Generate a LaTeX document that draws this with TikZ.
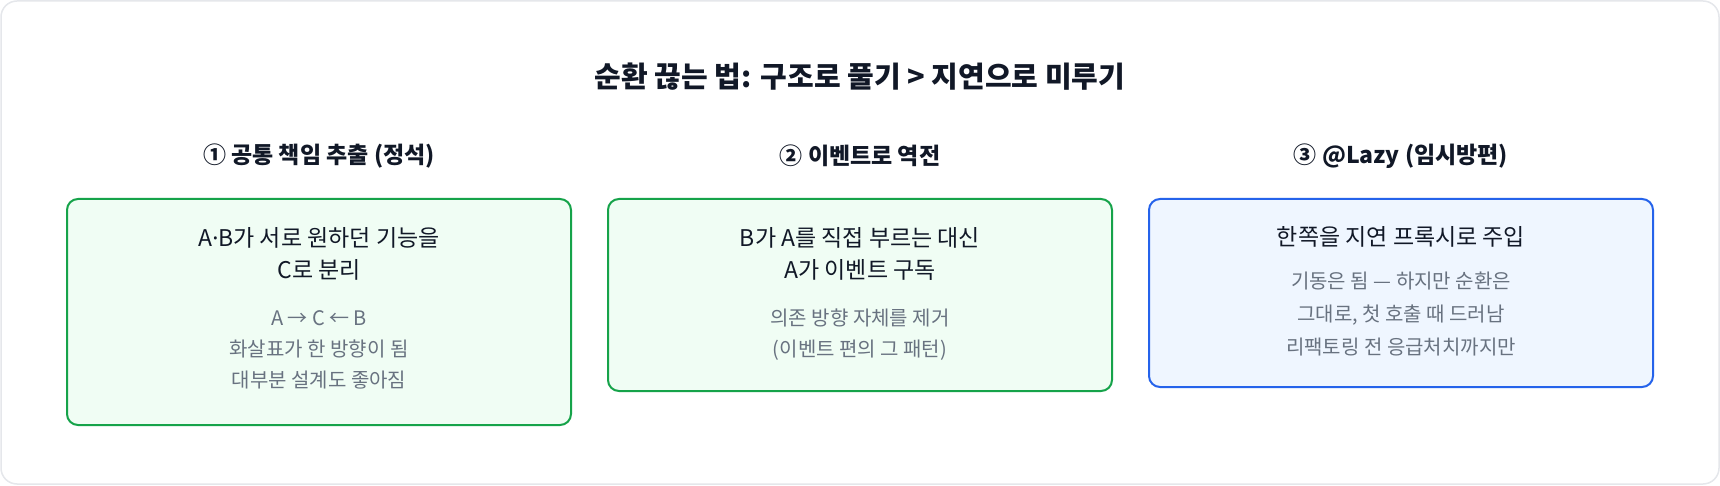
\documentclass[tikz,border=0pt]{standalone}
\usepackage{fontspec}
\setmainfont{Noto Sans CJK KR}
\newfontfamily\latinfont{Noto Sans}
\definecolor{frameline}{HTML}{E5E7EB}
\definecolor{inkdark}{HTML}{111827}
\definecolor{inkgray}{HTML}{687280}
\definecolor{okline}{HTML}{16A34A}
\definecolor{okfill}{HTML}{F0FDF4}
\definecolor{tmpline}{HTML}{2563EB}
\definecolor{tmpfill}{HTML}{EFF6FF}

\begin{document}
\begin{tikzpicture}[x=1pt, y=-1pt,
		titletext/.style={text=inkdark, font=\fontsize{29}{32}\selectfont\bfseries},
		headtext/.style={text=inkdark, font=\fontsize{23}{26}\selectfont\bfseries},
		maintext/.style={text=inkdark, align=center, font=\fontsize{23}{32}\selectfont},
		graytext/.style={text=inkgray, align=center, font=\fontsize{20}{31}\selectfont},
		greenbox/.style={draw=okline, fill=okfill, line width=2pt, rounded corners=11pt, minimum width=504pt},
		bluebox/.style={draw=tmpline, fill=tmpfill, line width=2pt, rounded corners=11pt, minimum width=504pt}]
			%%%%% START %%%%%
			
			\useasboundingbox (0, 0) rectangle (1720, 486);
			\draw[draw=frameline, fill=white, line width=1.5pt, rounded corners=16pt] (1, 1) rectangle (1719, 484);
			
			\node[titletext] (title) at (860, 77) {순환 끊는 법: 구조로 풀기 > 지연으로 미루기};
			
			\node[headtext] (headA) at (319, 156) {① 공통 책임 추출 (정석)};
			\node[headtext] (headB) at (860, 156) {② 이벤트로 역전};
			\node[headtext] (headC) at (1401, 156) {③ @Lazy (임시방편)};
			
			\node[greenbox, minimum height=226pt] (boxA) at (319, 312) {};
			\node[greenbox, minimum height=192pt] (boxB) at (860, 295) {};
			\node[bluebox, minimum height=188pt] (boxC) at (1401, 293) {};
			
			\node[maintext] (mainA) at (319, 253.5) {A{\latinfont ·}B가 서로 원하던 기능을\\C로 분리};
			\node[graytext] (noteA) at (319, 350) {A → C ← B\\화살표가 한 방향이 됨\\대부분 설계도 좋아짐};
			
			\node[maintext] (mainB) at (860, 253.5) {B가 A를 직접 부르는 대신\\A가 이벤트 구독};
			\node[graytext] (noteB) at (860, 334.5) {의존 방향 자체를 제거\\(이벤트 편의 그 패턴)};
			
			\node[maintext] (mainC) at (1401, 237) {한쪽을 지연 프록시로 주입};
			\node[graytext, font=\fontsize{20}{33}\selectfont] (noteC) at (1401, 314) {기동은 됨 — 하지만 순환은\\그대로, 첫 호출 때 드러남\\리팩토링 전 응급처치까지만};
			
			%%%%% END %%%%%
		\end{tikzpicture}
\end{document}
